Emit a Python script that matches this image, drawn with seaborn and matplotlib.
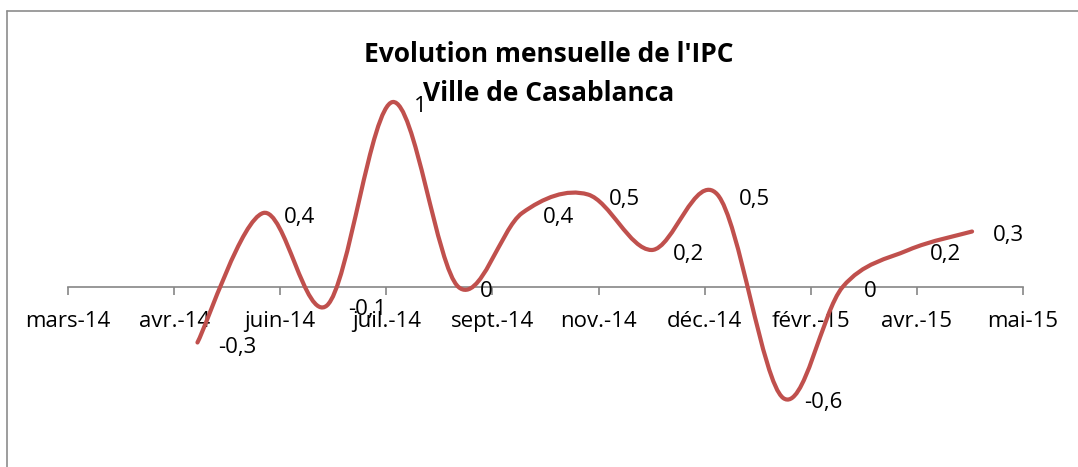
import numpy as np
import pandas as pd
import matplotlib
matplotlib.use("Agg")
import matplotlib.pyplot as plt
import matplotlib.dates as mdates
from matplotlib.path import Path
from matplotlib.patches import PathPatch
from matplotlib.lines import Line2D
import seaborn as sbn

# Monthly CPI change (%) - Casablanca
months = ["2014-05-01", "2014-06-01", "2014-07-01", "2014-08-01", "2014-09-01",
          "2014-10-01", "2014-11-01", "2014-12-01", "2015-01-01", "2015-02-01",
          "2015-03-01", "2015-04-01", "2015-05-01"]
ipc = [-0.3, 0.4, -0.1, 1, 0, 0.4, 0.5, 0.2, 0.5, -0.6, 0, 0.2, 0.3]

# Excel date axis: one tick every 50 days from 1 March 2014
tick_dates = ["2014-03-01", "2014-04-20", "2014-06-09", "2014-07-29", "2014-09-17",
              "2014-11-06", "2014-12-26", "2015-02-14", "2015-04-05", "2015-05-25"]
tick_labels = ["mars-14", "avr.-14", "juin-14", "juil.-14", "sept.-14",
               "nov.-14", "déc.-14", "févr.-15", "avr.-15", "mai-15"]

title_lines = ["Evolution mensuelle de l'IPC", "Ville de Casablanca"]

sbn.set_theme(style="white")
plt.rcParams['font.family'] = ['Open Sans', 'DejaVu Sans']

df = pd.DataFrame({"Mois": pd.to_datetime(months), "IPC": ipc})

W, H = 1078, 467
fig = plt.figure(figsize=(W / 100, H / 100), dpi=100)
ax = fig.add_axes([68 / W, 32 / H, 955 / W, 370 / H])

# register the points (dates) on the axes, the curve itself is drawn below
sbn.scatterplot(data=df, x="Mois", y="IPC", s=0, legend=False, ax=ax)

# Smoothed line like Excel: cubic Bezier segments through each point
x = mdates.date2num(df["Mois"])
y = df["IPC"].to_numpy(dtype=float)
xp = np.r_[x[0], x, x[-1]]
yp = np.r_[y[0], y, y[-1]]
verts = [(x[0], y[0])]
codes = [Path.MOVETO]
for i in range(1, len(x)):
    j0, j1 = i, i + 1
    c1 = (xp[j0] + (xp[j0 + 1] - xp[j0 - 1]) / 6, yp[j0] + (yp[j0 + 1] - yp[j0 - 1]) / 6)
    c2 = (xp[j1] - (xp[j1 + 1] - xp[j1 - 1]) / 6, yp[j1] - (yp[j1 + 1] - yp[j1 - 1]) / 6)
    verts += [c1, c2, (xp[j1], yp[j1])]
    codes += [Path.CURVE4] * 3
ax.add_patch(PathPatch(Path(verts, codes), fill=False, edgecolor="#C0504D", lw=3,
                       capstyle="round", joinstyle="round", zorder=3))

# data labels on the right of each point, decimal comma
for d, v in zip(df["Mois"], df["IPC"]):
    ax.annotate(f"{v:g}".replace(".", ","), (d, v), xytext=(21, -10),
                textcoords="offset pixels", ha="left", va="baseline",
                fontsize=16, color="black", zorder=4)

ax.set_xlim(pd.Timestamp(tick_dates[0]), pd.Timestamp(tick_dates[-1]))
ax.set_ylim(-0.8, 1.2)
ax.set_xticks(pd.to_datetime(tick_dates))
ax.set_xticklabels(tick_labels)
ax.set_yticks([])
ax.set_xlabel("")
ax.set_ylabel("")
for s in ["top", "right", "left"]:
    ax.spines[s].set_visible(False)
ax.spines["bottom"].set_position(("data", 0))
ax.spines["bottom"].set_color("#868686")
ax.spines["bottom"].set_linewidth(1.2)
ax.tick_params(axis="x", bottom=True, direction="out", length=6, width=1.2,
               color="#868686", pad=11, labelsize=16, labelcolor="black")
ax.patch.set_alpha(0)

# title (two bold lines)
fig.text(549 / W, 1 - 62 / H, title_lines[0], ha="center", va="baseline",
         fontsize=19, fontweight="bold", color="black")
fig.text(549 / W, 1 - 101 / H, title_lines[1], ha="center", va="baseline",
         fontsize=19, fontweight="bold", color="black")

# chart border (only left and top edges visible in the crop)
fig.add_artist(Line2D([6.5 / W, 6.5 / W], [0, 1 - 10.7 / H], transform=fig.transFigure,
                      color="#8c8c8c", lw=1.2))
fig.add_artist(Line2D([6.5 / W, 1], [1 - 10.7 / H, 1 - 10.7 / H], transform=fig.transFigure,
                      color="#8c8c8c", lw=1.2))

fig.savefig("out.png", dpi=100, facecolor="white")
